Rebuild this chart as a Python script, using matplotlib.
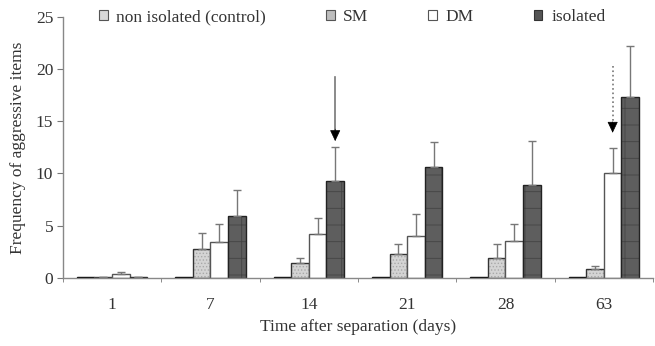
import numpy as np
import matplotlib.pyplot as plt
from matplotlib.patches import Patch

plt.rcParams['font.family'] = ['Liberation Serif', 'DejaVu Serif']
plt.rcParams['hatch.linewidth'] = 0.6
plt.rcParams['text.color'] = '#333333'
plt.rcParams['axes.labelcolor'] = '#333333'
plt.rcParams['xtick.labelcolor'] = '#333333'
plt.rcParams['ytick.labelcolor'] = '#333333'

# data
days = ['1', '7', '14', '21', '28', '63']
control = [0.05, 0.05, 0.05, 0.05, 0.05, 0.05]
sm = [0.1, 2.73, 1.44, 2.25, 1.92, 0.84]
sm_err = [0.0, 1.54, 0.43, 0.99, 1.32, 0.32]
dm = [0.35, 3.4, 4.17, 4.0, 3.5, 10.0]
dm_err = [0.2, 1.73, 1.6, 2.1, 1.63, 2.4]
isolated = [0.05, 5.93, 9.3, 10.6, 8.9, 17.3]
iso_err = [0.0, 2.44, 3.2, 2.4, 4.2, 4.9]

# arrows: (group index, bar index, start, head top, tip, style)
arrows = [(2, 3, 19.2, 14.2, 13.1, '-'), (5, 2, 20.3, 14.9, 13.9, ':')]

x = np.arange(len(days))
w = 0.179
offs = np.array([-1.5, -0.5, 0.5, 1.5]) * w

fig = plt.figure(figsize=(6.55, 3.46), dpi=100)
ax = fig.add_axes([0.096, 0.197, 0.901, 0.754])

ecol = '#777777'
ek = dict(ecolor=ecol, elinewidth=1, capsize=3, capthick=1)
z = np.zeros(len(days))

ax.bar(x + offs[0], control, w, color='#d8d8d8', edgecolor='black', lw=1)

ax.bar(x + offs[1], sm, w, color='#d4d4d4', edgecolor='none',
       yerr=[z, sm_err], error_kw=ek)
ax.bar(x + offs[1], sm, w, color='none', edgecolor='#a8a8a8', hatch='.....', lw=0)
ax.bar(x + offs[1], sm, w, color='none', edgecolor='#333333', lw=1)

ax.bar(x + offs[2], dm, w, color='white', edgecolor='#555555', lw=1,
       yerr=[z, dm_err], error_kw=ek)

ax.bar(x + offs[3], isolated, w, color='#5e5e5e', edgecolor='none',
       yerr=[z, iso_err], error_kw=ek)
ax.bar(x + offs[3], isolated, w, color='none', edgecolor='#444444', hatch='+', lw=0)
ax.bar(x + offs[3], isolated, w, color='none', edgecolor='#222222', lw=1)

for g, b, y0, ytop, ytip, ls in arrows:
    xa = x[g] + offs[b]
    ax.plot([xa, xa], [y0, ytop], color='#777777', lw=1.2, ls=ls)
    ax.annotate('', xy=(xa, ytip), xytext=(xa, ytop + 0.05),
                arrowprops=dict(arrowstyle='-|>,head_length=0.7,head_width=0.33',
                                color='black', lw=0.5, shrinkA=0, shrinkB=0))

ax.set_xlim(-0.5, len(days) - 0.5)
ax.set_ylim(0, 25)
ax.set_yticks(range(0, 26, 5))
ax.set_xticks(x)
ax.set_xticklabels(days)
ax.set_xticks(np.arange(-0.5, len(days) - 0.4, 1), minor=True)
ax.tick_params(axis='x', which='major', length=0, pad=14, labelsize=12.5)
ax.tick_params(axis='x', which='minor', length=3, color='#777777')
ax.tick_params(axis='y', length=4, color='#777777', labelsize=12.5, pad=3)
for s in ['top', 'right']:
    ax.spines[s].set_visible(False)
for s in ['left', 'bottom']:
    ax.spines[s].set_color('#888888')
    ax.spines[s].set_linewidth(1)

ax.set_xlabel('Time after separation (days)', fontsize=12.5, labelpad=4)
ax.set_ylabel('Frequency of aggressive items', fontsize=12.5, labelpad=7)

handles = [Patch(facecolor='#d8d8d8', edgecolor='#555555', lw=0.8),
           Patch(facecolor='#bdbdbd', edgecolor='#555555', lw=0.8),
           Patch(facecolor='white', edgecolor='#555555', lw=0.8),
           Patch(facecolor='#555555', edgecolor='#333333', lw=0.8)]
labels = ['non isolated (control)', 'SM', 'DM', 'isolated']
fig.legend(handles, labels, ncol=4, frameon=False, loc='center left',
           bbox_to_anchor=(0.151, 0.951), fontsize=12.5, handlelength=0.5,
           handleheight=0.5, handletextpad=0.5, columnspacing=3.45,
           borderaxespad=0, borderpad=0)

fig.savefig('out.png', dpi=100)
